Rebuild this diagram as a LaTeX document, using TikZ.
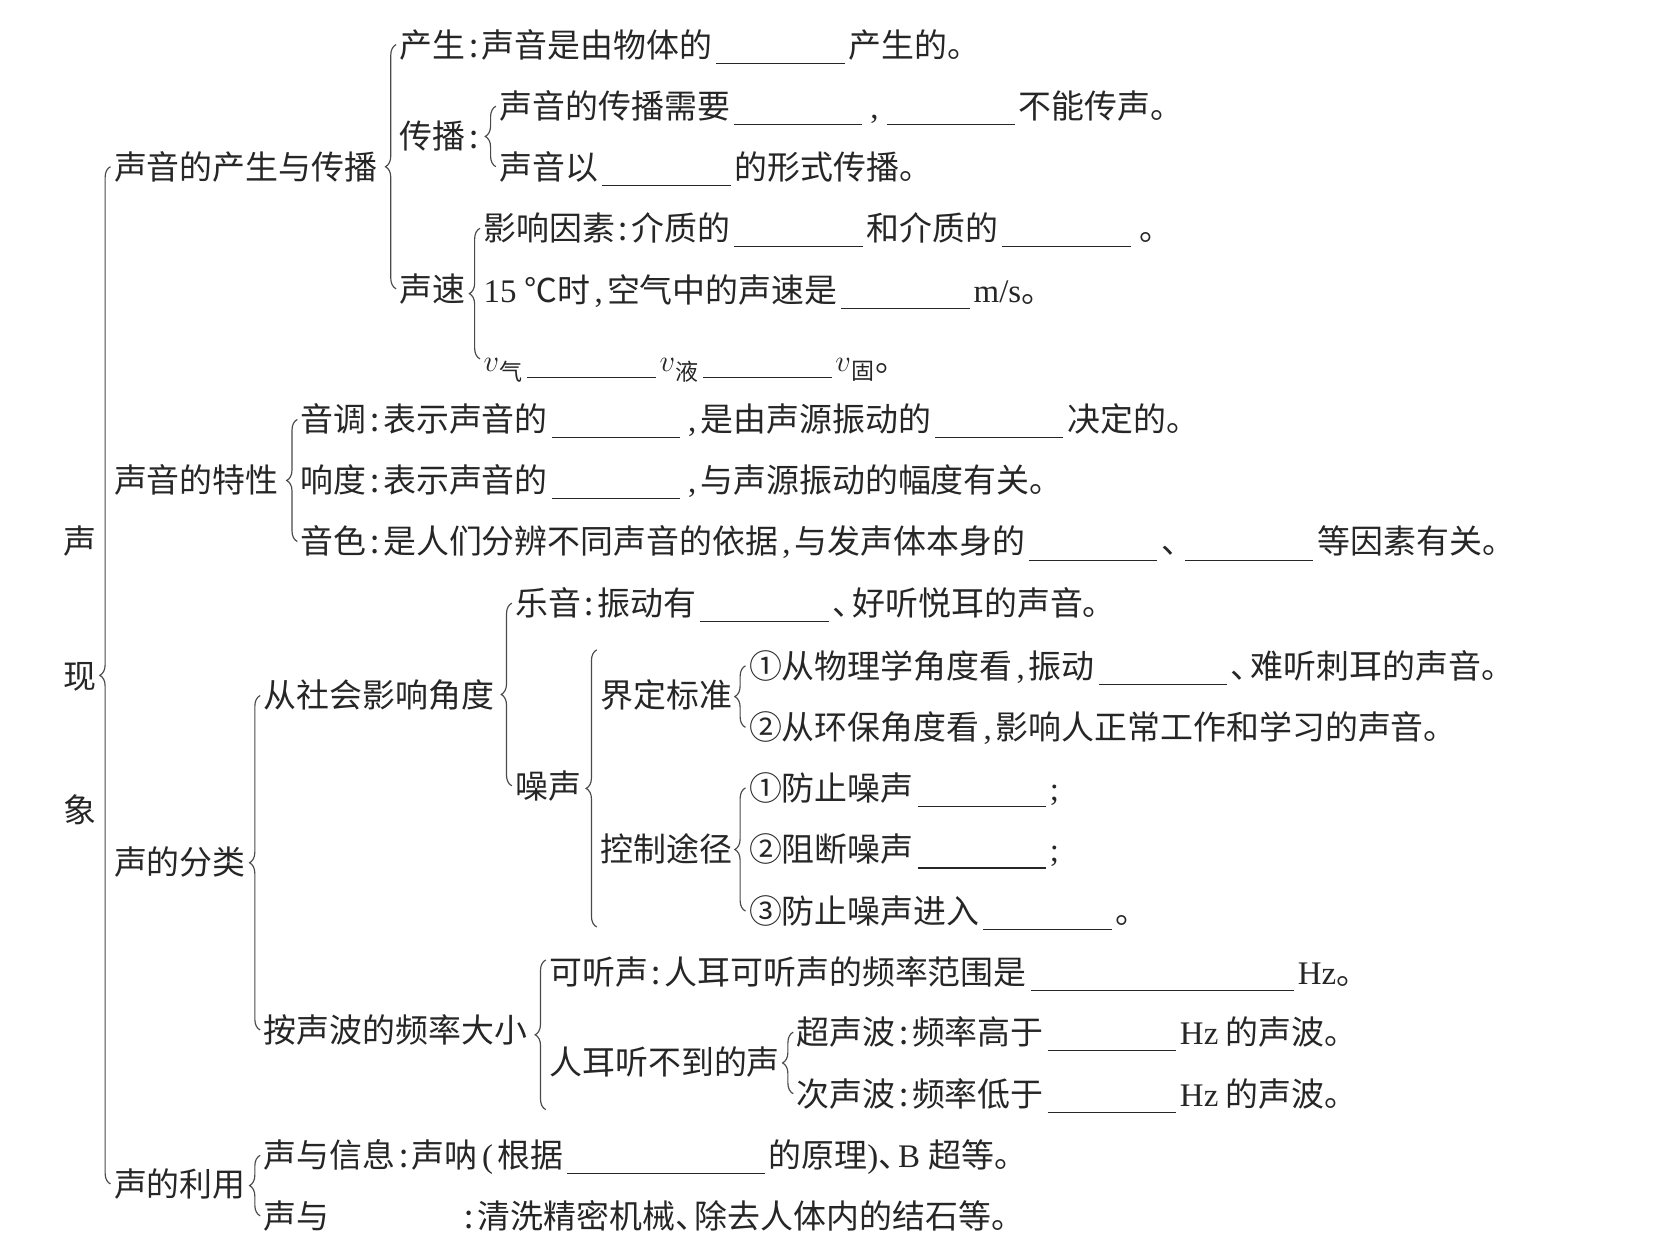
\documentclass[tikz,border=0pt]{standalone}
\usepackage{fontspec}
\setmainfont{Liberation Serif}
\newfontfamily\cjk{Noto Sans CJK SC}
\usetikzlibrary{decorations.pathreplacing}
\definecolor{InkGray}{HTML}{262626}
\definecolor{LineGray}{HTML}{4A4A4A}
\newcommand{\blank}[1][3.9em]{\hspace{.12em}\rule[-.2em]{#1}{.5pt}\hspace{.12em}}
\newcommand{\hc}{\makebox[.5em]{:}}
\newcommand{\hcm}{\makebox[.5em]{\rmfamily ,}}
\newcommand{\dunh}{\makebox[.6em][l]{、}}
\newcommand{\lat}[1]{{\rmfamily #1}}
\begin{document}
\begin{tikzpicture}[x=.5pt,y=-.5pt,font=\cjk\fontsize{15.5}{18}\selectfont,text=InkGray,
  lbl/.style={anchor=west,inner sep=0pt,text height=13.6pt,text depth=1.9pt},
  brc/.style={draw=LineGray,line width=.55pt,decorate,decoration={brace,amplitude=5pt}}]
  \useasboundingbox (0,0) rectangle (1568,1161);
  % root
  \foreach \c/\y [count=\i] in {声/510,现/637,象/763}
    \node[lbl,anchor=center] (r\i) at (75,\y) {\c};
  \node[lbl] (cs) at (107,157) {声音的产生与传播};
  \node[lbl] (tx) at (107,452) {声音的特性};
  \node[lbl] (fl) at (107,812) {声的分类};
  \node[lbl] (ly) at (107,1115) {声的利用};
  % production and propagation
  \node[lbl] (cs1) at (376,42) {产生\hc 声音是由物体的\blank 产生的。};
  \node[lbl] (cb) at (376,128) {传播\hc};
  \node[lbl] (cb1) at (470,100) {声音的传播需要\blank\hcm\blank 不能传声。};
  \node[lbl] (cb2) at (470,157) {声音以\blank 的形式传播。};
  \node[lbl] (sv) at (376,272) {声速};
  \node[lbl] (sv1) at (455,215) {影响因素\hc 介质的\blank 和介质的\blank\hspace{.15em}。};
  \node[lbl] (sv2) at (455,273) {\lat{15 }℃时\hcm 空气中的声速是\blank\lat{m/s}。};
  \node[lbl] (sv3) at (455,338) {\(v\)\textsubscript{气}\blank\(v\)\textsubscript{液}\blank\(v\)\textsubscript{固}。};
  % characteristics
  \node[lbl] (tx1) at (283,395) {音调\hc 表示声音的\blank\hcm 是由声源振动的\blank 决定的。};
  \node[lbl] (tx2) at (283,452) {响度\hc 表示声音的\blank\hcm 与声源振动的幅度有关。};
  \node[lbl] (tx3) at (283,510) {音色\hc 是人们分辨不同声音的依据\hcm 与发声体本身的\blank\dunh\blank 等因素有关。};
  % classification
  \node[lbl] (sh) at (248,655) {从社会影响角度};
  \node[lbl] (yy) at (485,568) {乐音\hc 振动有\blank\dunh 好听悦耳的声音。};
  \node[lbl] (zs) at (485,740) {噪声};
  \node[lbl] (jd) at (565,655) {界定标准};
  \node[lbl] (jd1) at (705,627) {①从物理学角度看\hcm 振动\blank\dunh 难听刺耳的声音。};
  \node[lbl] (jd2) at (705,685) {②从环保角度看\hcm 影响人正常工作和学习的声音。};
  \node[lbl] (kz) at (565,800) {控制途径};
  \node[lbl] (kz1) at (705,742) {①防止噪声\blank\lat{;}};
  \node[lbl] (kz2) at (705,800) {②阻断噪声\blank\lat{;}};
  \node[lbl] (kz3) at (705,858) {③防止噪声进入\blank 。};
  \node[lbl] (pl) at (248,970) {按声波的频率大小};
  \node[lbl] (kt) at (517,915) {可听声\hc 人耳可听声的频率范围是\blank[8em]\lat{Hz}。};
  \node[lbl] (bt) at (517,1000) {人耳听不到的声};
  \node[lbl] (bt1) at (750,972) {超声波\hc 频率高于\blank\lat{Hz} 的声波。};
  \node[lbl] (bt2) at (750,1030) {次声波\hc 频率低于\blank\lat{Hz} 的声波。};
  % uses
  \node[lbl] (ly1) at (248,1088) {声与信息\hc 声呐\makebox[.6em]{\lat{(}}根据\blank[6em]的原理\lat{)}\dunh\lat{B }超等。};
  \node[lbl] (ly2) at (248,1145) {声与\hspace{4em}\hc 清洗精密机械\dunh 除去人体内的结石等。};
  % braces
  \draw[brc] ([xshift=-1.5pt]ly.west) -- ([xshift=-1.5pt]cs.west);
  \draw[brc] ([xshift=-1.5pt]sv.west) -- ([xshift=-1.5pt]cs1.west);
  \draw[brc] ([xshift=-1.5pt]cb2.west) -- ([xshift=-1.5pt]cb1.west);
  \draw[brc] ([xshift=-1.5pt]sv3.west) -- ([xshift=-1.5pt]sv1.west);
  \draw[brc] ([xshift=-1.5pt]tx3.west) -- ([xshift=-1.5pt]tx1.west);
  \draw[brc] ([xshift=-1.5pt]pl.west) -- ([xshift=-1.5pt]sh.west);
  \draw[brc] ([xshift=-1.5pt]zs.west) -- ([xshift=-1.5pt]yy.west);
  \draw[brc] ([xshift=-1.5pt,yshift=-36.5pt]kz.west) -- ([xshift=-1.5pt,yshift=21.5pt]jd.west);
  \draw[brc] ([xshift=-1.5pt]jd2.west) -- ([xshift=-1.5pt]jd1.west);
  \draw[brc] ([xshift=-1.5pt]kz3.west) -- ([xshift=-1.5pt]kz1.west);
  \draw[brc] ([xshift=-1.5pt,yshift=-22.5pt]bt.west) -- ([xshift=-1.5pt,yshift=5.5pt]kt.west);
  \draw[brc] ([xshift=-1.5pt]bt2.west) -- ([xshift=-1.5pt]bt1.west);
  \draw[brc] ([xshift=-1.5pt]ly2.west) -- ([xshift=-1.5pt]ly1.west);
\end{tikzpicture}
\end{document}
